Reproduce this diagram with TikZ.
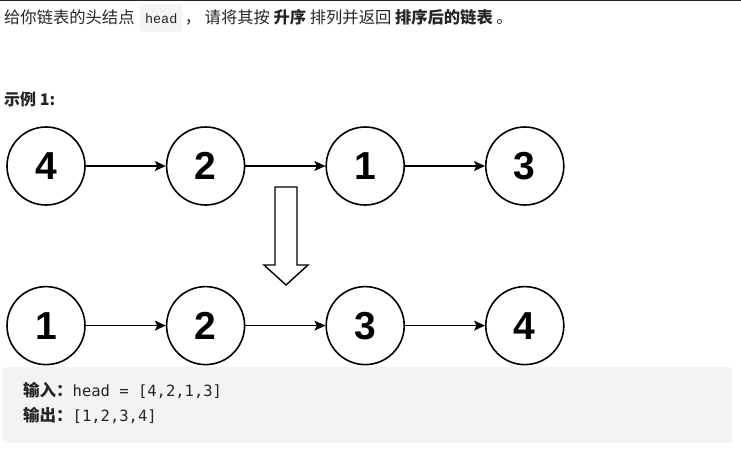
\documentclass[tikz,border=0pt]{standalone}
\usepackage{fontspec}
\setmainfont{Liberation Sans}
\setmonofont{DejaVu Sans Mono}
\newfontfamily\cjk{Noto Sans CJK SC}
\newfontfamily\codefont{Liberation Mono}
\usepackage{tikz}
\usetikzlibrary{arrows.meta, positioning}

\definecolor{textgray}{HTML}{262626}
\definecolor{codebg}{HTML}{F2F3F5}

\begin{document}
\begin{tikzpicture}[
  x=1pt, y=1pt,
  >={Stealth[length=11pt, width=10pt, inset=2.5pt]},
  node distance=80pt and 80pt,
  listnode/.style={draw, circle, line width=1.6pt, minimum size=78pt, inner sep=0pt, font=\fontsize{39}{39}\selectfont\bfseries},
  link/.style={->, line width=1.3pt},
  sortarrow/.style={draw, line width=1.4pt, line join=miter, fill=white},
  prose/.style={inner sep=0pt, text=textgray, font=\cjk\fontsize{16.3}{20}\selectfont},
  codebox/.style={fill=codebg, rounded corners=3pt, inner xsep=5pt, inner ysep=0pt, minimum height=27pt, text=textgray, font=\codefont\fontsize{13.5}{16}\selectfont},
  panel/.style={fill=codebg, rounded corners=4pt, inner sep=0pt, minimum width=729pt, minimum height=76pt},
  sample/.style={inner sep=0pt, anchor=west, text=textgray, font=\fontsize{15.5}{18}\selectfont}
]
\useasboundingbox (0,0) rectangle (741,-448);

\draw[line width=1.2pt, textgray] (0,-0.6) -- (741,-0.6);

% problem statement
\node[prose, anchor=base west] (intro) at (4,-23) {给你链表的头结点};
\node[codebox, base right=5pt of intro] (headcode) {head};
\node[prose, base right=2pt of headcode] (rest) {， 请将其按 \textbf{升序} 排列并返回 \textbf{排序后的链表} 。};

\node[prose, anchor=west, font=\cjk\fontsize{16}{18}\selectfont\bfseries] (title) at (4,-99) {示例 1:};

% unsorted list
\node[listnode] (a4) at (46,-166) {4};
\node[listnode, right=of a4] (a2) {2};
\node[listnode, right=of a2] (a1) {1};
\node[listnode, right=of a1] (a3) {3};

% sorted list
\node[listnode, below=of a4] (b1) {1};
\node[listnode, right=of b1] (b2) {2};
\node[listnode, right=of b2] (b3) {3};
\node[listnode, right=of b3] (b4) {4};

\draw[link] (a4) -- (a2);
\draw[link] (a2) -- (a1);
\draw[link] (a1) -- (a3);
\draw[link] (b1) -- (b2);
\draw[link] (b2) -- (b3);
\draw[link] (b3) -- (b4);

\coordinate (sorttip) at (286,-285);
\draw[sortarrow] (sorttip) -- ++(-22,20) -- ++(11,0) -- ++(0,78) -- ++(22,0) -- ++(0,-78) -- ++(11,0) -- cycle;

% example box
\node[panel, anchor=north west] (examplebox) at (3,-367) {};
\node[sample] (inputline) at (23,-390) {{\cjk\bfseries\fontsize{16.5}{18}\selectfont 输入：}\texttt{head = [4,2,1,3]}};
\node[sample] (outputline) at (23,-415) {{\cjk\bfseries\fontsize{16.5}{18}\selectfont 输出：}\texttt{[1,2,3,4]}};
\end{tikzpicture}
\end{document}
